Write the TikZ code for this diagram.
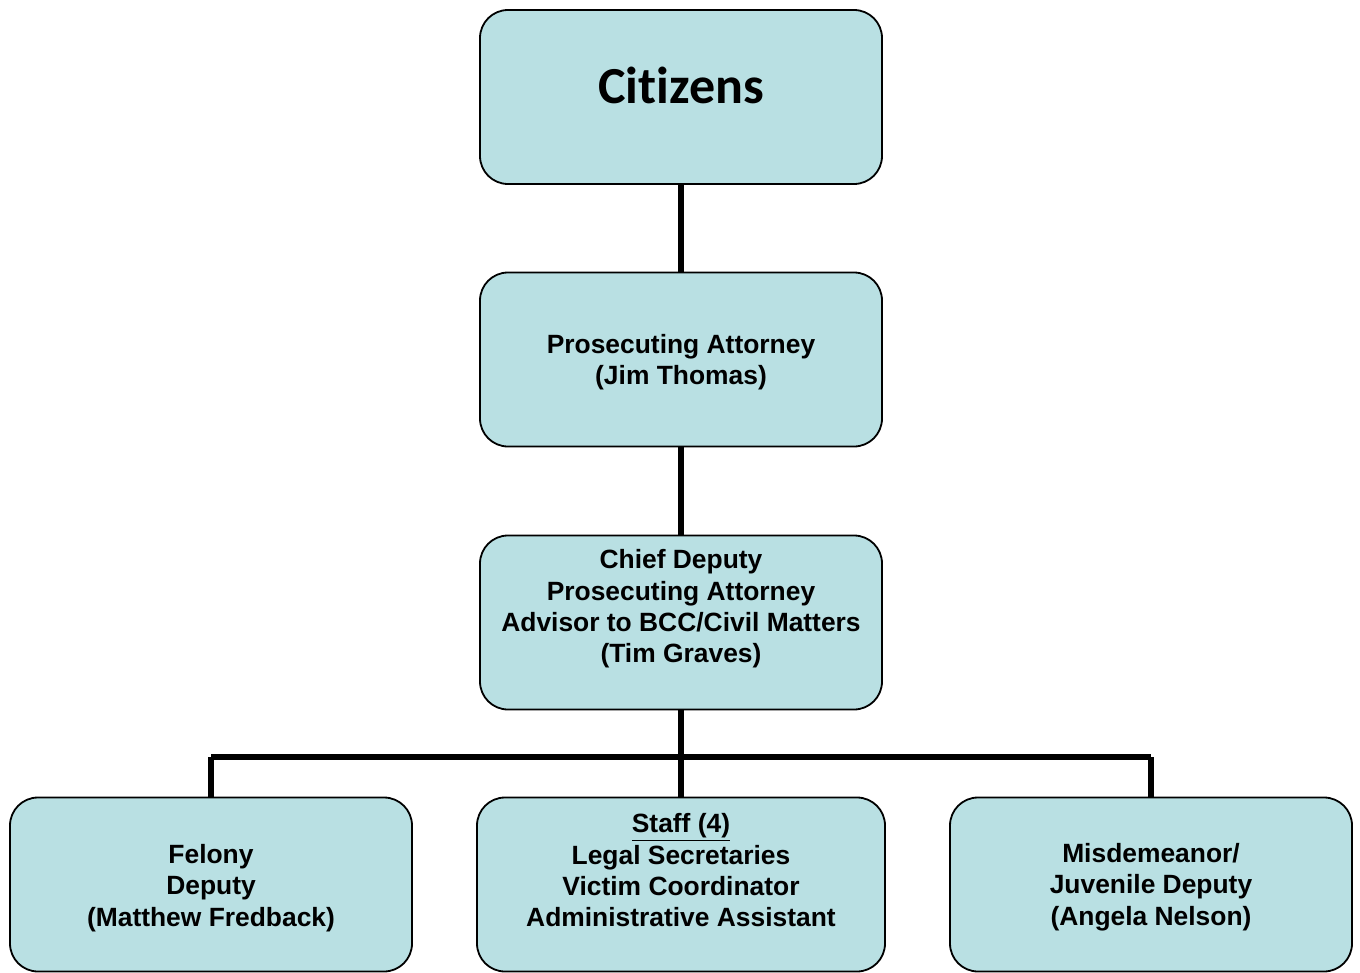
\documentclass[tikz,border=0pt]{standalone}
\usepackage{fontspec}
\setmainfont{Liberation Sans}
\newfontfamily\citfont[Ligatures=CommonOff]{Carlito}
\usetikzlibrary{positioning}
\definecolor{boxfill}{RGB}{185,224,227}
\tikzset{
	orgbox/.style={draw=black,line width=1.8pt,fill=boxfill,rounded corners=28pt,minimum width=402pt,minimum height=174pt,inner sep=0pt},
	orgtext/.style={align=center,font=\fontsize{26.4}{31.3}\selectfont\bfseries,inner sep=0pt},
	link/.style={line width=6pt}
}
\begin{document}
\begin{tikzpicture}[x=1pt,y=-1pt]
	\useasboundingbox (0,0) rectangle (1360,972);
	%Boxes of the chart
	\node [orgbox] (cit) at (681,97) {};
	\node [orgbox] (pa) at (681,359.5) {};
	\node [orgbox] (cd) at (681,622.5) {};
	\node [orgbox] (fel) at (211,884.5) {};
	\node [orgbox,minimum width=408pt] (staff) at (681,884.5) {};
	\node [orgbox] (misd) at (1151,884.5) {};
	%Texts in the boxes
	\node [inner sep=0pt] (citText) at (681,85) {\citfont\fontsize{52}{62}\selectfont\bfseries Citizens};
	\node [orgtext] (paText) at (681,362.5) {Prosecuting Attorney\\(Jim Thomas)};
	\node [orgtext] (cdText) at (681,609) {Chief Deputy\\Prosecuting Attorney\\Advisor to BCC/Civil Matters\\(Tim Graves)};
	\node [orgtext] (felText) at (211,888) {Felony\\Deputy\\(Matthew Fredback)};
	\node [orgtext] (staffText) at (681,870.5) {\underline{Staff (4)}\\Legal Secretaries\\Victim Coordinator\\Administrative Assistant};
	\node [orgtext] (misdText) at (1151,887) {Misdemeanor/\\Juvenile Deputy\\(Angela Nelson)};
	%Lines between the boxes
	\coordinate (busLeft) at (211,757);
	\coordinate (busRight) at (1151,757);
	\draw [link] (cit.south) -- (pa.north);
	\draw [link] (pa.south) -- (cd.north);
	\draw [link] (cd.south) -- (staff.north);
	\draw [link] (busLeft) -- (busRight);
	\draw [link] (busLeft) -- (fel.north);
	\draw [link] (busRight) -- (misd.north);
\end{tikzpicture}
\end{document}
